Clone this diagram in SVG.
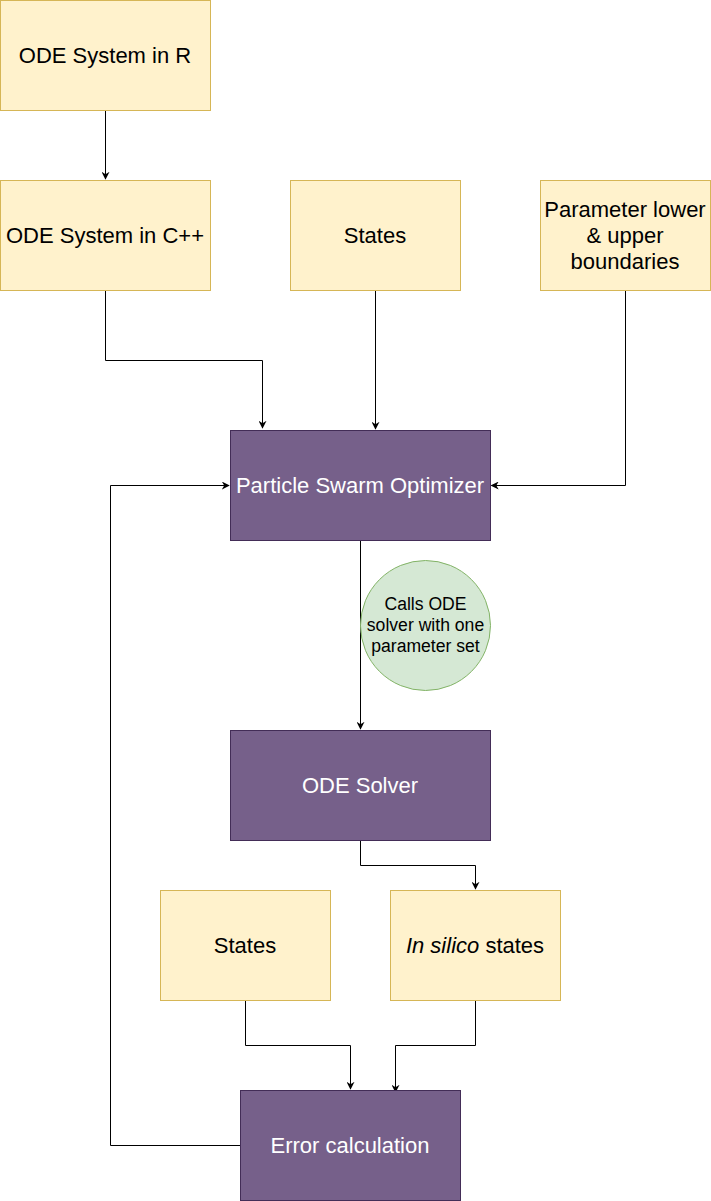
<svg xmlns="http://www.w3.org/2000/svg" width="711" height="1201" viewBox="0 0 711 1201">
<style>
.y{fill:#fff2cc;stroke:#d6b656;stroke-width:1}
.p{fill:#76608a;stroke:#432d57;stroke-width:1}
.g{fill:#d5e8d4;stroke:#82b366;stroke-width:1}
.t{font-family:"Liberation Sans",Arial,sans-serif;font-size:22px;text-anchor:middle;fill:#000}
.w{fill:#fff}
.s{font-size:17.6px}
.c{fill:none;stroke:#000;stroke-width:1}
</style>
<defs>
<marker id="a" viewBox="0 0 10 10" refX="9" refY="5" markerWidth="8" markerHeight="8" markerUnits="userSpaceOnUse" orient="auto">
<path d="M0,0 L10,5 L0,10 L3,5 Z" fill="#000"/>
</marker>
</defs>
<g id="connectors">
<path class="c" d="M105.5,110.5 V179" marker-end="url(#a)"/>
<path class="c" d="M105.5,290.5 V360.5 H262.5 V428" marker-end="url(#a)"/>
<path class="c" d="M375.5,290.5 V429" marker-end="url(#a)"/>
<path class="c" d="M625.5,290.5 V485.5 H491.5" marker-end="url(#a)"/>
<path class="c" d="M360.5,540.5 V729" marker-end="url(#a)"/>
<path class="c" d="M360.5,840.5 V865.5 H475.5 V889" marker-end="url(#a)"/>
<path class="c" d="M245.5,1000.5 V1045.5 H350.5 V1089" marker-end="url(#a)"/>
<path class="c" d="M475.5,1000.5 V1045.5 H395.5 V1092" marker-end="url(#a)"/>
<path class="c" d="M240.5,1145.5 H110.5 V485.5 H229" marker-end="url(#a)"/>
</g>
<g id="ode-r"><rect class="y" x="0.5" y="0.5" width="210" height="110"/><text class="t" x="105" y="63">ODE System in R</text></g>
<g id="ode-cpp"><rect class="y" x="0.5" y="180.5" width="210" height="110"/><text class="t" x="105" y="243">ODE System in C++</text></g>
<g id="states1"><rect class="y" x="290.5" y="180.5" width="170" height="110"/><text class="t" x="375" y="243">States</text></g>
<g id="bounds"><rect class="y" x="540.5" y="180.5" width="170" height="110"/><text class="t" x="625" y="217">Parameter lower<tspan x="625" dy="26">&amp; upper</tspan><tspan x="625" dy="26">boundaries</tspan></text></g>
<g id="pso"><rect class="p" x="230.5" y="430.5" width="260" height="110"/><text class="t w" x="360" y="493">Particle Swarm Optimizer</text></g>
<g id="note"><circle class="g" cx="425.5" cy="625.5" r="65"/><text class="t s" x="425.5" y="610">Calls ODE<tspan x="425.5" dy="21">solver with one</tspan><tspan x="425.5" dy="21">parameter set</tspan></text></g>
<g id="solver"><rect class="p" x="230.5" y="730.5" width="260" height="110"/><text class="t w" x="360" y="793">ODE Solver</text></g>
<g id="states2"><rect class="y" x="160.5" y="890.5" width="170" height="110"/><text class="t" x="245" y="953">States</text></g>
<g id="insilico"><rect class="y" x="390.5" y="890.5" width="170" height="110"/><text class="t" x="475" y="953"><tspan font-style="italic">In silico</tspan> states</text></g>
<g id="error"><rect class="p" x="240.5" y="1090.5" width="220" height="110"/><text class="t w" x="350" y="1153">Error calculation</text></g>
</svg>
